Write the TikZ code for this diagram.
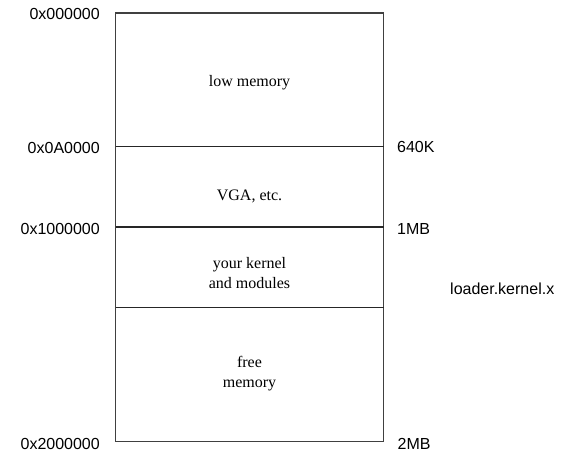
\documentclass[tikz,border=0pt]{standalone}
\usepackage{fontspec}
\setmainfont{Liberation Serif}
\setsansfont{Liberation Sans}
\begin{document}
\begin{tikzpicture}[x=1pt,y=-1pt,
  frame/.style={draw=black!75,line width=1.1pt},
  divider/.style={draw=black!85,line width=1.1pt},
  addr/.style={font=\sffamily\fontsize{16}{19}\selectfont,inner sep=0pt,anchor=base east},
  size/.style={font=\sffamily\fontsize{16}{19}\selectfont,inner sep=0pt,anchor=base west},
  region/.style={font=\rmfamily\fontsize{16}{20}\selectfont,inner sep=0pt,anchor=base,align=center}]
\useasboundingbox (0,0) rectangle (567,453);
% memory map outline and region boundaries
\coordinate (tl) at (115.5,13);
\coordinate (tr) at (383.5,13);
\coordinate (bl) at (115.5,441.5);
\coordinate (br) at (383.5,441.5);
\coordinate (a1) at (115.5,146.5);
\coordinate (b1) at (383.5,146.5);
\coordinate (a2) at (115.5,227);
\coordinate (b2) at (383.5,227);
\coordinate (a3) at (115.5,307.5);
\coordinate (b3) at (383.5,307.5);
\draw[frame] (tl) -- (bl) -- (br) -- (tr) -- cycle;
\draw[divider] (a1) -- (b1);
\draw[divider] (a2) -- (b2);
\draw[divider] (a3) -- (b3);
% region contents (two-line nodes sit on the baseline of their last line)
\node[region] (low) at (249.5,86) {low memory};
\node[region] (vga) at (249.5,200.7) {VGA, etc.};
\node[region] (kern) at (249.5,288.3) {your kernel\\and modules};
\node[region] (free) at (249.5,387) {free\\memory};
% physical addresses
\node[addr] (ad0) at (100,19) {0x000000};
\node[addr] (ad1) at (100,153) {0x0A0000};
\node[addr] (ad2) at (100,234.5) {0x1000000};
\node[addr] (ad3) at (100,449.5) {0x2000000};
% sizes
\node[size] (s1) at (397,152.7) {640K};
\node[size] (s2) at (397,234) {1MB};
\node[size] (s3) at (397.5,449) {2MB};
\node[size] (ld) at (450,294) {loader.kernel.x};
\end{tikzpicture}
\end{document}
